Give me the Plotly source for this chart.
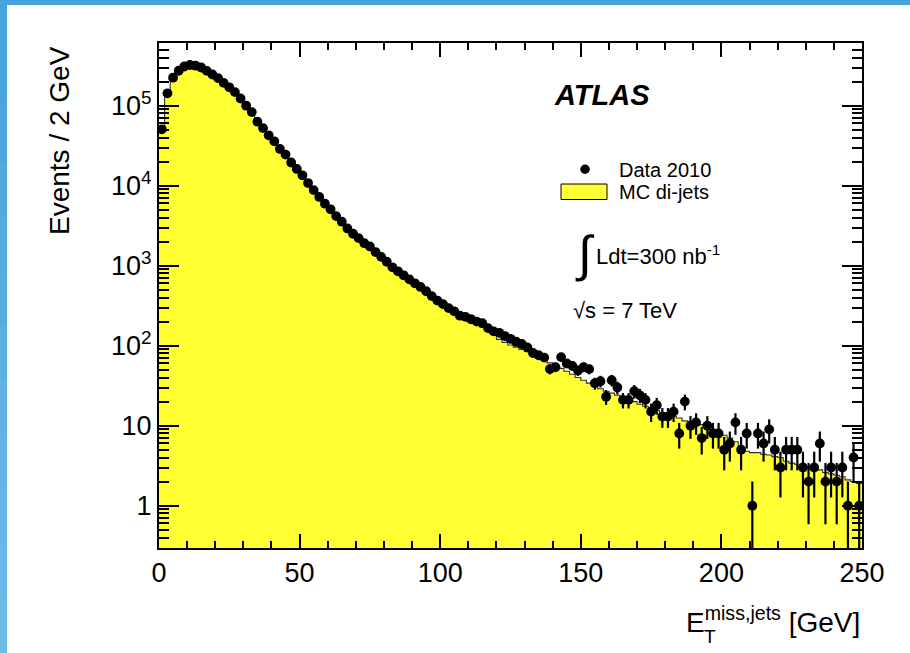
import math
import plotly.graph_objects as go

# ---------------- data ----------------
BIN_WIDTH = 2
N_BINS = 125
bin_centers = [1 + BIN_WIDTH * i for i in range(N_BINS)]
bin_edges = [BIN_WIDTH * i for i in range(N_BINS + 1)]

data_2010 = [
    50700, 142900, 223900, 273500, 309000, 322800, 316200, 300600, 272300, 245500,
    221300, 192800, 169800, 147900, 123000, 100000, 83200, 63100, 52500, 42700,
    35900, 28800, 24500, 19500, 16200, 13500, 10800, 8810, 7240, 5960,
    5070, 4170, 3550, 2920, 2510, 2210, 1910, 1740, 1480, 1290,
    1120, 955, 851, 759, 676, 603, 543, 479, 417, 367,
    331, 295, 269, 237, 229, 214, 200, 191, 166, 151,
    145, 132, 122, 112, 105, 95, 81, 76, 71, 51,
    54, 72, 60, 56, 49, 54, 51, 34, 36, 23,
    37, 30, 21, 21, 27, 24, 21, 15, 18, 13,
    13, 15, 8, 20, 10, 11, 7, 10, 8, 8,
    5, 6, 11, 5, 8, 1, 8, 6, 9, 5,
    3, 5, 5, 5, 3, 2, 3, 6, 2, 3,
    2, 3, 1, 4, 1,
]

mc_dijets = [
    49000, 140000, 221000, 270000, 306000, 318000, 313000, 298000, 270000, 244000,
    219000, 192000, 170000, 148000, 124000, 101000, 84000, 64000, 53500, 43000,
    38500, 30500, 24800, 19700, 16300, 13600, 10900, 8900, 7400, 6400,
    5300, 4200, 3560, 2930, 2500, 2200, 1900, 1720, 1470, 1280,
    1100, 950, 840, 750, 665, 590, 535, 470, 440, 400,
    325, 288, 262, 232, 220, 205, 190, 172, 155, 138,
    120, 110, 102, 96, 90, 85, 77, 71, 66, 61,
    56, 52, 48, 44, 40, 37, 34, 31, 29, 27,
    25.5, 24, 22.5, 21, 20, 18.5, 17.5, 16.5, 15.5, 14.5,
    13.5, 13, 12.5, 11.5, 11, 10.8, 10.3, 9.5, 9, 8.3,
    7.6, 7, 6.3, 5, 4.8, 4.6, 4.6, 4.4, 4.3, 4.1,
    4, 3.6, 3.4, 3.3, 3.2, 3.0, 2.9, 2.8, 2.6, 2.5,
    2.4, 2.3, 2.1, 2.0, 1.9,
]

x_tick_vals = [0, 50, 100, 150, 200, 250]
y_tick_vals = [1, 10, 100, 1000, 10000, 100000]
y_tick_text = ["1", "10", "10<sup>2</sup>", "10<sup>3</sup>", "10<sup>4</sup>", "10<sup>5</sup>"]

# ---------------- geometry helpers ----------------
W, H = 910, 653
L, R, T, B = 159, 48, 43, 105
PW, PH = W - L - R, H - T - B


def px(x):
    return (x - L) / PW


def py(y):
    return (H - B - y) / PH


FONT = "Liberation Sans, Arial, Helvetica, sans-serif"

err_up = [math.sqrt(v) for v in data_2010]
err_dn = [min(math.sqrt(v), v * 0.999) for v in data_2010]

fig = go.Figure()
fig.add_trace(go.Bar(
    x=bin_centers, y=mc_dijets, width=BIN_WIDTH,
    marker=dict(color="#ffff33", line=dict(width=0)),
    showlegend=False, name="MC di-jets",
))
fig.add_trace(go.Scatter(
    x=bin_edges, y=mc_dijets + [mc_dijets[-1]], mode="lines",
    line=dict(shape="hv", color="#333333", width=1.1),
    showlegend=False, hoverinfo="skip",
))
fig.add_trace(go.Scatter(
    x=bin_centers, y=data_2010, mode="markers",
    marker=dict(color="black", size=9.8),
    error_y=dict(type="data", array=err_up, arrayminus=err_dn,
                 color="black", thickness=2.2, width=0),
    showlegend=False, name="Data 2010",
))

minor_y = []
for d in range(-1, 6):
    for k in range(2, 10):
        v = k * 10 ** d
        if 0.3 <= v <= 6.1e5:
            minor_y.append(v)

fig.update_layout(
    width=W, height=H,
    margin=dict(l=L, r=R, t=T, b=B, pad=0),
    template="none",
    paper_bgcolor="white", plot_bgcolor="white",
    bargap=0, barmode="overlay",
    font=dict(family=FONT, color="black"),
    showlegend=False,
    xaxis=dict(
        range=[0, 250], tickmode="array", tickvals=x_tick_vals,
        ticks="inside", ticklen=14, tickwidth=1.5, tickcolor="black",
        showline=True, linecolor="black", linewidth=2, mirror="allticks",
        showgrid=False, zeroline=False, automargin=False,
        tickfont=dict(size=27, family=FONT, color="black"),
        minor=dict(tickmode="array", tickvals=[v for v in range(10, 250, 10) if v % 50],
                   ticks="inside", ticklen=7, tickwidth=1.5, tickcolor="black", showgrid=False),
    ),
    yaxis=dict(
        type="log", range=[-0.529, 5.784], tickmode="array",
        tickvals=y_tick_vals, ticktext=y_tick_text,
        ticks="inside", ticklen=20, tickwidth=1.5, tickcolor="black",
        showline=True, linecolor="black", linewidth=2, mirror="allticks",
        showgrid=False, zeroline=False, automargin=False,
        tickfont=dict(size=27, family=FONT, color="black"),
        minor=dict(tickmode="array", tickvals=minor_y,
                   ticks="inside", ticklen=10, tickwidth=1.5, tickcolor="black", showgrid=False),
    ),
)

shapes = []
# blue frame (left gradient + top band)
n_seg = 12
c0 = (0x46, 0xa3, 0xdb)
c1 = (0x6d, 0xba, 0xe6)
for i in range(n_seg):
    t = i / (n_seg - 1)
    col = "rgb(%d,%d,%d)" % tuple(round(a + (b - a) * t) for a, b in zip(c0, c1))
    shapes.append(dict(type="rect", xref="paper", yref="paper",
                       x0=px(-1), x1=px(7),
                       y0=py(min(H + 2, H * (i + 1) / n_seg + 2)), y1=py(H * i / n_seg - 1),
                       fillcolor=col, line=dict(width=0), layer="above"))
shapes.append(dict(type="rect", xref="paper", yref="paper",
                   x0=px(-1), x1=px(W + 1), y0=py(5), y1=py(-1),
                   fillcolor="#46a3db", line=dict(width=0), layer="above"))
# legend glyphs
shapes.append(dict(type="circle", xref="paper", yref="paper",
                   x0=px(580.3), x1=px(589.8), y0=py(174.0), y1=py(164.5),
                   fillcolor="black", line=dict(width=0)))
shapes.append(dict(type="rect", xref="paper", yref="paper",
                   x0=px(561), x1=px(607), y0=py(199.5), y1=py(184),
                   fillcolor="#ffff33", line=dict(color="black", width=1)))
fig.update_layout(shapes=shapes)

ann = [
    dict(text="<b><i>ATLAS</i></b>", x=px(602), y=py(95), font=dict(size=29)),
    dict(text="Data 2010", x=px(617), y=py(170), xanchor="left", font=dict(size=20)),
    dict(text="MC di-jets", x=px(617), y=py(192), xanchor="left", font=dict(size=20)),
    dict(text="∫", x=px(585), y=py(254), font=dict(size=50, family="Liberation Sans")),
    dict(text="Ldt=300 nb<sup>-1</sup>", x=px(594), y=py(255), xanchor="left", font=dict(size=22)),
    dict(text="√s = 7 TeV", x=px(571), y=py(310), xanchor="left", font=dict(size=22)),
    dict(text="Events / 2 GeV", x=px(60), y=py(141), textangle=-90, font=dict(size=28)),
    dict(text="E<sup>miss,jets</sup> [GeV]", x=px(862), y=py(620), xanchor="right", font=dict(size=28)),
    dict(text="T", x=px(710), y=py(636), font=dict(size=19)),
]
for a in ann:
    a.setdefault("xref", "paper")
    a.setdefault("yref", "paper")
    a.setdefault("showarrow", False)
    a.setdefault("xanchor", "center")
    a.setdefault("yanchor", "middle")
    f = a["font"]
    f.setdefault("family", FONT)
    f.setdefault("color", "black")
fig.update_layout(annotations=ann)

fig.write_html("out.html")
